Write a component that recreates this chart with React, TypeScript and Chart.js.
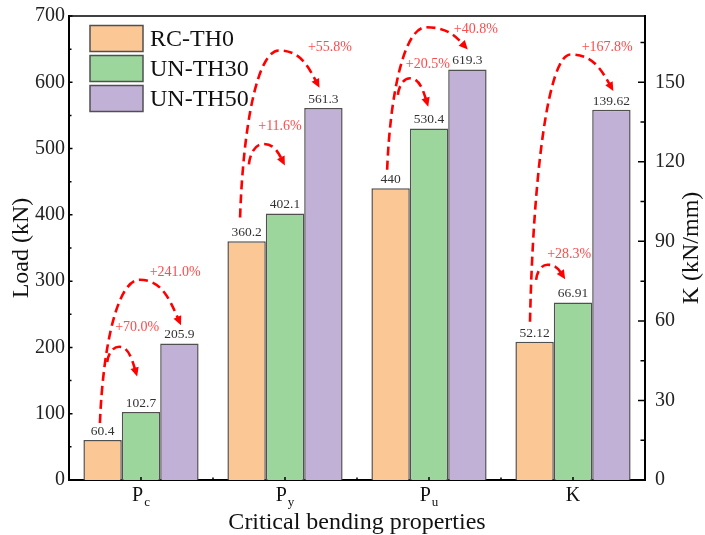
import React, { useEffect, useRef } from 'react';
import { Chart, registerables } from 'chart.js';

Chart.register(...registerables);

// ---------- data ----------
const categories = ['Pc', 'Py', 'Pu', 'K'];
const categoryMain = ['P', 'P', 'P', 'K'];
const categorySub = ['c', 'y', 'u', ''];
const seriesNames = ['RC-TH0', 'UN-TH30', 'UN-TH50'];
const seriesColors = ['#FAC795', '#9DD69C', '#C2B1D6'];
// loads (kN) for Pc, Py, Pu
const rcTH0Load = [60.4, 360.2, 440];
const unTH30Load = [102.7, 402.1, 530.4];
const unTH50Load = [205.9, 561.3, 619.3];
// stiffness K (kN/mm) for RC-TH0, UN-TH30, UN-TH50
const stiffnessK = [52.12, 66.91, 139.62];
const loadTicks = [0, 100, 200, 300, 400, 500, 600, 700];
const kTicks = [0, 30, 60, 90, 120, 150];

// ---------- increase annotations ----------
const arrowCategory = [0, 0, 1, 1, 2, 2, 3, 3];
const arrowFrom = [0, 0, 0, 0, 0, 0, 0, 0];
const arrowTo = [1, 2, 1, 2, 1, 2, 1, 2];
const arrowLabels = ['+70.0%', '+241.0%', '+11.6%', '+55.8%', '+20.5%', '+40.8%', '+28.3%', '+167.8%'];
// heights on the axis of the category (Load axis, or K axis for K)
const arrowStartValue = [178, 86, 476, 396, 581, 468, 75.5, 59.7];
const arrowPeakValue = [201, 302, 507, 648, 606, 683, 81.2, 160.5];
const arrowEndValue = [162, 239, 480, 597, 569, 654, 77, 148];
const arrowLabelValue = [231, 312.6, 533, 652, 627, 680, 85, 163];
// horizontal shifts in bar widths
const arrowStartShift = [0.12, -0.07, 0.06, -0.17, 0.19, -0.09, 0.04, -0.12];
const arrowEndShift = [-0.13, 0, -0.05, -0.15, -0.05, -0.06, -0.26, 0];
const arrowLabelShift = [-0.1, 0.89, -0.13, 1.17, -0.03, 1.22, -0.1, 0.89];

const SERIF = '"Liberation Serif", "Times New Roman", Times, serif';

const loadSeries = [rcTH0Load, unTH30Load, unTH50Load];

function buildDatasets() {
  const sets: any[] = [];
  seriesNames.forEach((name, i) => {
    sets.push({
      label: name,
      data: [...loadSeries[i], null],
      yAxisID: 'y',
      backgroundColor: seriesColors[i],
      borderColor: '#505050',
      borderWidth: 1.5,
      skipNull: true,
    });
  });
  seriesNames.forEach((name, i) => {
    sets.push({
      label: name + ' K',
      data: [null, null, null, stiffnessK[i]],
      yAxisID: 'y1',
      backgroundColor: seriesColors[i],
      borderColor: '#505050',
      borderWidth: 1.5,
      skipNull: true,
    });
  });
  return sets;
}

function barOf(chart: any, cat: number, series: number) {
  const ds = cat === 3 ? 3 + series : series;
  return chart.getDatasetMeta(ds).data[cat];
}

const decorPlugin = {
  id: 'decor',
  afterDatasetsDraw(chart: any) {
    const ctx = chart.ctx;
    ctx.save();
    // value labels
    ctx.font = `13.5px ${SERIF}`;
    ctx.fillStyle = '#333';
    ctx.textAlign = 'center';
    ctx.textBaseline = 'bottom';
    chart.data.datasets.forEach((ds: any, di: number) => {
      const meta = chart.getDatasetMeta(di);
      ds.data.forEach((v: any, j: number) => {
        if (v === null || v === undefined) return;
        const el = meta.data[j];
        ctx.fillText(String(v), el.x, el.y - 2);
      });
    });

    // arrows
    for (let k = 0; k < arrowCategory.length; k++) {
      const cat = arrowCategory[k];
      const sc = cat === 3 ? chart.scales.y1 : chart.scales.y;
      const fb = barOf(chart, cat, arrowFrom[k]);
      const tb = barOf(chart, cat, arrowTo[k]);
      const bw = fb.width;
      const big = arrowTo[k] - arrowFrom[k] > 1;
      const s = { x: fb.x + arrowStartShift[k] * bw, y: sc.getPixelForValue(arrowStartValue[k]) };
      const e = { x: tb.x + arrowEndShift[k] * bw, y: sc.getPixelForValue(arrowEndValue[k]) };
      const py = sc.getPixelForValue(arrowPeakValue[k]);
      const px = s.x + (big ? 0.5 : 0.42) * (e.x - s.x);
      const c2 = { x: e.x - 0.25 * (e.x - px), y: e.y - 0.55 * (e.y - py) };
      ctx.strokeStyle = '#FF0000';
      ctx.lineWidth = 2.6;
      ctx.setLineDash([9, 5]);
      ctx.beginPath();
      ctx.moveTo(s.x, s.y);
      ctx.bezierCurveTo(s.x + 0.08 * (px - s.x), s.y - 0.55 * (s.y - py), px - 0.55 * (px - s.x), py, px, py);
      ctx.bezierCurveTo(px + 0.55 * (e.x - px), py, c2.x, c2.y, e.x, e.y);
      ctx.stroke();
      ctx.setLineDash([]);
      // head
      let dx = e.x - c2.x;
      let dy = e.y - c2.y;
      const len = Math.hypot(dx, dy) || 1;
      dx /= len;
      dy /= len;
      const tip = { x: e.x + dx * 4, y: e.y + dy * 4 };
      const base = { x: tip.x - dx * 9, y: tip.y - dy * 9 };
      ctx.fillStyle = '#FF0000';
      ctx.beginPath();
      ctx.moveTo(tip.x, tip.y);
      ctx.lineTo(base.x - dy * 4.2, base.y + dx * 4.2);
      ctx.lineTo(base.x + dy * 4.2, base.y - dx * 4.2);
      ctx.closePath();
      ctx.fill();
      // label
      const cx = chart.scales.x.getPixelForValue(cat);
      ctx.fillStyle = '#FF4B4B';
      ctx.font = `14px ${SERIF}`;
      ctx.textAlign = 'center';
      ctx.textBaseline = 'middle';
      ctx.fillText(arrowLabels[k], cx + arrowLabelShift[k] * bw, sc.getPixelForValue(arrowLabelValue[k]));
    }
    ctx.restore();
  },
  afterDraw(chart: any) {
    const ctx = chart.ctx;
    const a = chart.chartArea;
    const y = chart.scales.y;
    const y1 = chart.scales.y1;
    const x = chart.scales.x;
    ctx.save();
    ctx.strokeStyle = '#000';
    // top frame
    ctx.lineWidth = 1.6;
    ctx.beginPath();
    ctx.moveTo(a.left, a.top);
    ctx.lineTo(a.right + 1, a.top);
    ctx.stroke();
    // left ticks (inward)
    ctx.lineWidth = 1.5;
    ctx.beginPath();
    for (let v = 0; v <= 700; v += 50) {
      const p = y.getPixelForValue(v);
      const l = v % 100 === 0 ? 3.5 : 2.5;
      ctx.moveTo(a.left, p);
      ctx.lineTo(a.left + l, p);
    }
    // right ticks (inward)
    for (let v = 0; v <= 165; v += 15) {
      const p = y1.getPixelForValue(v);
      const l = v % 30 === 0 ? 7 : 4.5;
      ctx.moveTo(a.right, p);
      ctx.lineTo(a.right - l, p);
    }
    // bottom ticks
    for (let i = 0; i < categories.length; i++) {
      const c = x.getPixelForValue(i);
      ctx.moveTo(c, a.bottom);
      ctx.lineTo(c, a.bottom - 3);
      if (i < categories.length - 1) {
        const m = (c + x.getPixelForValue(i + 1)) / 2;
        ctx.moveTo(m, a.bottom);
        ctx.lineTo(m, a.bottom - 2.5);
      }
    }
    ctx.stroke();

    // category labels with subscripts
    ctx.fillStyle = '#111';
    ctx.textBaseline = 'alphabetic';
    for (let i = 0; i < categories.length; i++) {
      const c = x.getPixelForValue(i);
      ctx.font = `20px ${SERIF}`;
      const wMain = ctx.measureText(categoryMain[i]).width;
      ctx.font = `13px ${SERIF}`;
      const wSub = categorySub[i] ? ctx.measureText(categorySub[i]).width + 1 : 0;
      const left = c - (wMain + wSub) / 2;
      ctx.textAlign = 'left';
      ctx.font = `20px ${SERIF}`;
      ctx.fillText(categoryMain[i], left, a.bottom + 21);
      if (categorySub[i]) {
        ctx.font = `13px ${SERIF}`;
        ctx.fillText(categorySub[i], left + wMain + 1, a.bottom + 26);
      }
    }

    // axis titles
    ctx.font = `24px ${SERIF}`;
    ctx.fillStyle = '#111';
    ctx.textAlign = 'center';
    ctx.textBaseline = 'middle';
    ctx.fillText('Critical bending properties', (a.left + a.right) / 2, a.bottom + 43);
    const midY = (a.top + a.bottom) / 2;
    ctx.save();
    ctx.translate(a.left - 47, midY);
    ctx.rotate(-Math.PI / 2);
    ctx.fillText('Load (kN)', 0, 0);
    ctx.restore();
    ctx.save();
    ctx.translate(a.right + 47, midY);
    ctx.rotate(-Math.PI / 2);
    ctx.fillText('K (kN/mm)', 0, 0);
    ctx.restore();

    // legend
    const lx = a.left + 21;
    let ly = a.top + 9.5;
    ctx.font = `24px ${SERIF}`;
    ctx.textAlign = 'left';
    ctx.textBaseline = 'middle';
    seriesNames.forEach((name, i) => {
      ctx.fillStyle = seriesColors[i];
      ctx.fillRect(lx, ly, 53, 26);
      ctx.strokeStyle = '#505050';
      ctx.lineWidth = 1.5;
      ctx.strokeRect(lx, ly, 53, 26);
      ctx.fillStyle = '#111';
      ctx.fillText(name, lx + 60, ly + 14);
      ly += 30;
    });
    ctx.restore();
  },
};

export default function App() {
  const ref = useRef<HTMLCanvasElement | null>(null);
  useEffect(() => {
    if (!ref.current) return;
    const tickFont = { family: SERIF, size: 20 };
    const chart = new Chart(ref.current, {
      type: 'bar',
      data: { labels: categories, datasets: buildDatasets() },
      options: {
        responsive: false,
        animation: false,
        layout: { padding: { top: 16, left: 0, right: 0, bottom: 0 } },
        plugins: { legend: { display: false }, tooltip: { enabled: false } },
        datasets: { bar: { categoryPercentage: 0.8, barPercentage: 1 } },
        scales: {
          x: {
            grid: { display: false, drawTicks: false },
            border: { color: '#000', width: 2 },
            ticks: { display: false },
            afterFit: (s: any) => { s.height = 55; s.paddingLeft = 0; s.paddingRight = 0; },
          },
          y: {
            position: 'left',
            min: 0,
            max: 700,
            grid: { display: false, drawTicks: false },
            border: { color: '#000', width: 2 },
            ticks: { font: tickFont, color: '#222', padding: 4 },
            afterBuildTicks: (s: any) => { s.ticks = loadTicks.map((v) => ({ value: v })); },
            afterFit: (s: any) => { s.width = 69; s.paddingTop = 0; s.paddingBottom = 0; },
          },
          y1: {
            position: 'right',
            min: 0,
            max: 175,
            grid: { display: false, drawTicks: false },
            border: { color: '#000', width: 2 },
            ticks: { font: tickFont, color: '#222', padding: 10 },
            afterBuildTicks: (s: any) => { s.ticks = kTicks.map((v) => ({ value: v })); },
            afterFit: (s: any) => { s.width = 60; s.paddingTop = 0; s.paddingBottom = 0; },
          },
        },
      } as any,
      plugins: [decorPlugin],
    });
    return () => chart.destroy();
  }, []);
  return (
    <div style={{ position: 'absolute', left: 0, top: 0, width: 705, height: 535, background: '#fff' }}>
      <canvas ref={ref} width={705} height={535} />
    </div>
  );
}
